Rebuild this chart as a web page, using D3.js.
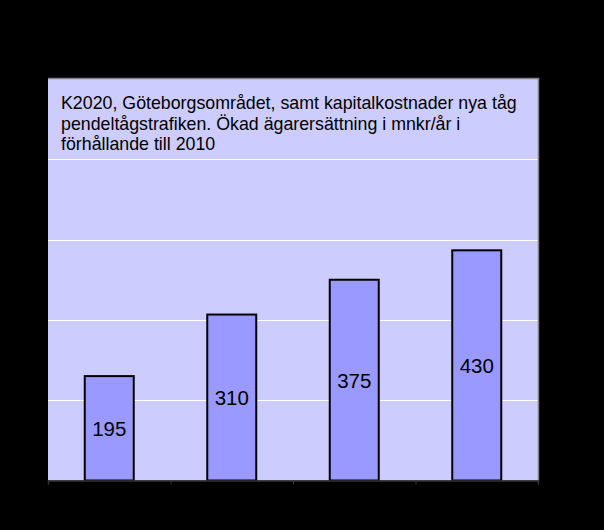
<!DOCTYPE html>
<html>
<head>
<meta charset="utf-8">
<script src="https://cdn.jsdelivr.net/npm/d3@7"></script>
<style>
  html, body { margin: 0; padding: 0; background: #000; }
  svg { display: block; }
</style>
</head>
<body>
<svg id="chart" width="604" height="530"></svg>
<script>
// data
var categories = ['1', '2', '3', '4'];
var values = [195, 310, 375, 430];
var yTicks = [0, 150, 300, 450, 600, 750];
var titleLines = [
  'K2020, Göteborgsområdet, samt kapitalkostnader nya tåg',
  'pendeltågstrafiken. Ökad ägarersättning i mnkr/år i',
  'förhållande till 2010'
];

var svg = d3.select('#chart'),
    plot = { left: 48, top: 79, right: 538, bottom: 480.5 }; // plot area

svg.append('rect')
  .attr('width', 604).attr('height', 530)
  .attr('fill', '#000');

var x = d3.scaleBand()
  .domain(categories)
  .range([plot.left, plot.right])
  .paddingInner(0.6)
  .paddingOuter(0.3);

var y = d3.scaleLinear()
  .domain([0, 750])
  .range([plot.bottom, plot.top]);

// plot area background
svg.append('rect')
  .attr('x', plot.left).attr('y', plot.top)
  .attr('width', plot.right - plot.left)
  .attr('height', plot.bottom - plot.top)
  .attr('fill', '#ccccff');

// gridlines
svg.append('g')
  .selectAll('line')
  .data(yTicks.slice(1, -1))
  .enter()
  .append('line')
  .attr('x1', plot.left).attr('x2', plot.right)
  .attr('y1', function(d) { return Math.round(y(d)) + 0.5; })
  .attr('y2', function(d) { return Math.round(y(d)) + 0.5; })
  .attr('stroke', '#ffffff')
  .attr('stroke-width', 1.2);

// border top / right
svg.append('path')
  .attr('d', 'M' + plot.left + ',' + (plot.top - 0.5) + 'H' + (plot.right + 0.5) + 'V' + plot.bottom)
  .attr('fill', 'none')
  .attr('stroke', '#808080')
  .attr('stroke-width', 1.5);

// bars
svg.append('g')
  .selectAll('rect')
  .data(values)
  .enter()
  .append('rect')
  .attr('x', function(d, i) { return x(categories[i]); })
  .attr('y', function(d) { return y(d); })
  .attr('width', x.bandwidth())
  .attr('height', function(d) { return y(0) - y(d); })
  .attr('fill', '#9999ff')
  .attr('stroke', '#000')
  .attr('stroke-width', 2);

// value labels
svg.append('g')
  .selectAll('text')
  .data(values)
  .enter()
  .append('text')
  .attr('x', function(d, i) { return x(categories[i]) + x.bandwidth() / 2; })
  .attr('y', function(d) { return (y(d) + y(0)) / 2; })
  .attr('dy', '0.36em')
  .attr('text-anchor', 'middle')
  .attr('font-family', 'Arial, "Liberation Sans", sans-serif')
  .attr('font-size', 20.5)
  .attr('fill', '#000')
  .text(function(d) { return d; });

// category axis
var xAxis = d3.axisBottom(d3.scaleLinear().domain([0, 4]).range([plot.left, plot.right]))
  .ticks(4)
  .tickSize(4)
  .tickFormat('');
svg.append('g')
  .attr('transform', 'translate(0,' + plot.bottom + ')')
  .call(xAxis)
  .call(function(g) {
    g.select('.domain').attr('stroke', '#333').attr('stroke-width', 1.5);
    g.selectAll('.tick line').attr('stroke', '#333');
  });

// title inside plot area
svg.append('g')
  .selectAll('text')
  .data(titleLines)
  .enter()
  .append('text')
  .attr('x', 61)
  .attr('y', function(d, i) { return 109 + i * 20.5; })
  .attr('font-family', 'Arial, "Liberation Sans", sans-serif')
  .attr('font-size', 17.8)
  .attr('fill', '#000')
  .text(function(d) { return d; });
</script>
</body>
</html>
